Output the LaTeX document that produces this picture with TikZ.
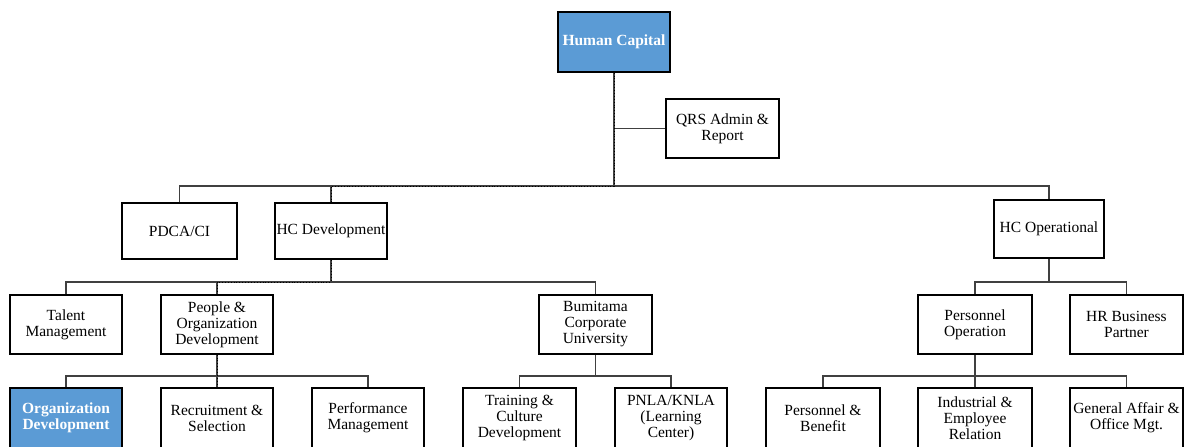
\documentclass[tikz,border=0pt]{standalone}
\usepackage{fontspec}
\setmainfont{Liberation Serif}
\definecolor{hcblue}{RGB}{91,155,213}
\tikzset{
  box/.style={draw=black, line width=1.3pt, fill=white, align=center,
    inner sep=0pt, font=\fontsize{15.5}{16}\selectfont, text=black},
  bluebox/.style={box, fill=hcblue, text=white, font=\fontsize{15.5}{16}\selectfont\bfseries},
  conn/.style={draw=black!75, line width=1.8pt},
  hl/.style={draw=black, line width=0.9pt, dotted},
}
\begin{document}
\begin{tikzpicture}[x=1pt,y=-1pt]
\useasboundingbox (0,0) rectangle (1186,447);
% top
\node[bluebox, minimum width=112, minimum height=60] (hc) at (614,42) {Human Capital};
\node[box, minimum width=113, minimum height=59] (qrs) at (722.5,128.5) {QRS Admin \&\\Report};
% level 1
\node[box, minimum width=115, minimum height=56] (pdca) at (179.5,231) {PDCA/CI};
\node[box, minimum width=112, minimum height=56] (hcd) at (331,231) {HC Development};
\node[box, minimum width=110, minimum height=58] (hco) at (1049,229) {HC Operational};
% level 2
\node[box, minimum width=112, minimum height=59] (tm) at (66,324.5) {Talent\\Management};
\node[box, minimum width=112, minimum height=59] (pod) at (217,324.5) {People \&\\Organization\\Development};
\node[box, minimum width=113, minimum height=59] (bcu) at (595.5,324.5) {Bumitama\\Corporate\\University};
\node[box, minimum width=114, minimum height=59] (po) at (975,324.5) {Personnel\\Operation};
\node[box, minimum width=113, minimum height=59] (hrbp) at (1126.5,324.5) {HR Business\\Partner};
% level 3
\node[bluebox, minimum width=112, minimum height=60] (od) at (66,418) {Organization\\Development};
\node[box, minimum width=112, minimum height=60] (rs) at (217,418) {Recruitment \&\\Selection};
\node[box, minimum width=112, minimum height=60] (pm) at (368,418) {Performance\\Management};
\node[box, minimum width=113, minimum height=60] (tcd) at (519.5,418) {Training \&\\Culture\\Development};
\node[box, minimum width=112, minimum height=60] (pnla) at (671,418) {PNLA/KNLA\\(Learning\\Center)};
\node[box, minimum width=114, minimum height=60] (pb) at (823,418) {Personnel \&\\Benefit};
\node[box, minimum width=114, minimum height=60] (ier) at (975,418) {Industrial \&\\Employee\\Relation};
\node[box, minimum width=113, minimum height=60] (ga) at (1126.5,418) {General Affair \&\\Office Mgt.};
% buses
\coordinate (bus1) at (0,186);
\coordinate (bus2) at (0,282);
\coordinate (bus3) at (0,376);
% connectors level 0-1
\draw[conn] (hc.south) |- (qrs.west);
\draw[conn] (hc.south) -- (hc.south |- bus1);
\draw[conn] (pdca.north) -- (pdca.north |- bus1) -- (hco.north |- bus1) -- (hco.north);
\draw[conn] (hcd.north) -- (hcd.north |- bus1);
% level 1-2
\draw[conn] (hcd.south) -- (hcd.south |- bus2);
\draw[conn] (tm.north) -- (tm.north |- bus2) -- (bcu.north |- bus2) -- (bcu.north);
\draw[conn] (pod.north) -- (pod.north |- bus2);
\draw[conn] (hco.south) -- (hco.south |- bus2);
\draw[conn] (po.north) -- (po.north |- bus2) -- (hrbp.north |- bus2) -- (hrbp.north);
% level 2-3
\draw[conn] (pod.south) -- (pod.south |- bus3);
\draw[conn] (od.north) -- (od.north |- bus3) -- (pm.north |- bus3) -- (pm.north);
\draw[conn] (rs.north) -- (rs.north |- bus3);
\draw[conn] (bcu.south) -- (bcu.south |- bus3);
\draw[conn] (tcd.north) -- (tcd.north |- bus3) -- (pnla.north |- bus3) -- (pnla.north);
\draw[conn] (po.south) -- (po.south |- bus3);
\draw[conn] (pb.north) -- (pb.north |- bus3) -- (ga.north |- bus3) -- (ga.north);
\draw[conn] (ier.north) -- (ier.north |- bus3);
% dotted overlay
\draw[hl] (hc.south) -- (hc.south |- bus1) -- (hcd.north |- bus1) -- (hcd.north);
\draw[hl] (hcd.south) -- (hcd.south |- bus2) -- (pod.north |- bus2) -- (pod.north);
\draw[hl] (pod.south) -- (rs.north);
\end{tikzpicture}
\end{document}
